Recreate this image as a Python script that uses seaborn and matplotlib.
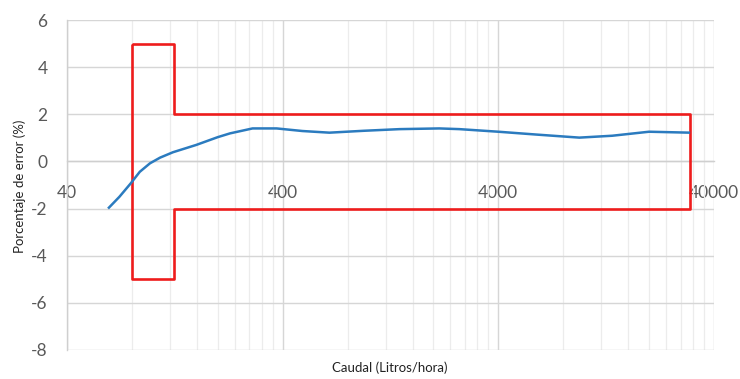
import matplotlib
matplotlib.use("Agg")
import matplotlib.pyplot as plt
import seaborn as sns
import pandas as pd

# Measured error curve
caudal = [62, 70, 79, 87, 97, 108, 124, 159, 200, 228, 290, 375, 494, 659, 950,
          1393, 2130, 2640, 4000, 6000, 9500, 13500, 20000, 31000]
error = [-2.0, -1.5, -0.93, -0.44, -0.08, 0.16, 0.39, 0.70, 1.03, 1.19, 1.40, 1.40, 1.29, 1.22, 1.30,
         1.37, 1.40, 1.37, 1.26, 1.14, 1.01, 1.09, 1.26, 1.22]

# Tolerance envelope (closed polygon)
lim_x = [80, 126, 126, 31000, 31000, 126, 126, 80, 80]
lim_y = [5, 5, 2, 2, -2, -2, -5, -5, 5]

x_ticks = [40, 400, 4000, 40000]
x_tick_labels = ["40", "400", "4000", "40000"]
y_ticks = [-8, -6, -4, -2, 0, 2, 4, 6]

sns.set_theme(style="white")
plt.rcParams['font.family'] = ['Lato', 'DejaVu Sans']

fig = plt.figure(figsize=(7.4, 3.79), dpi=100)
ax = fig.add_axes([67/740, 29/379, (714-67)/740, 330/379])

df_curve = pd.DataFrame({"Caudal": caudal, "Error": error})
df_lim = pd.DataFrame({"Caudal": lim_x, "Error": lim_y})

ax.set_xscale("log")
ax.set_xlim(40, 40000)
ax.set_ylim(-8, 6)

sns.lineplot(data=df_lim, x="Caudal", y="Error", sort=False, estimator=None,
             color="#ee1c1c", linewidth=1.9, ax=ax, zorder=3)
sns.lineplot(data=df_curve, x="Caudal", y="Error", sort=False, estimator=None,
             color="#2b7bbf", linewidth=1.8, ax=ax, zorder=4)
for l in ax.lines:
    l.set_solid_joinstyle("round")
    l.set_solid_capstyle("butt")

minor = [40 * k * 10**d for d in range(3) for k in range(2, 10)]
ax.set_xticks(x_ticks)
ax.set_xticklabels(x_tick_labels)
ax.set_xticks(minor, minor=True)
ax.set_xticklabels([], minor=True)
ax.set_yticks(y_ticks)
ax.set_yticklabels([str(v) for v in y_ticks])

ax.grid(which="major", axis="both", color="#d6d6d6", linewidth=1.0)
ax.grid(which="minor", axis="x", color="#ececec", linewidth=0.9)
ax.set_axisbelow(True)

for s in ["top", "right"]:
    ax.spines[s].set_visible(False)
ax.spines["left"].set_color("#cfcfcf")
ax.spines["left"].set_linewidth(1.0)
ax.spines["bottom"].set_position(("data", 0))
ax.spines["bottom"].set_color("#cfcfcf")
ax.spines["bottom"].set_linewidth(1.0)

ax.tick_params(axis="x", which="both", length=0, pad=17, labelsize=12.5, labelcolor="#595959")
ax.tick_params(axis="y", which="both", length=0, pad=14, labelsize=12.5, labelcolor="#595959")

ax.set_xlabel("")
ax.set_ylabel("")
fig.text(390/740, 1 - 368/379, "Caudal (Litros/hora)", ha="center", va="center",
         fontsize=9.5, color="#222222")
fig.text(20/740, 1 - 186/379, "Porcentaje de error (%)", ha="center", va="center",
         rotation=90, fontsize=9.5, color="#222222")

fig.savefig("out.png", dpi=100, facecolor="white")
